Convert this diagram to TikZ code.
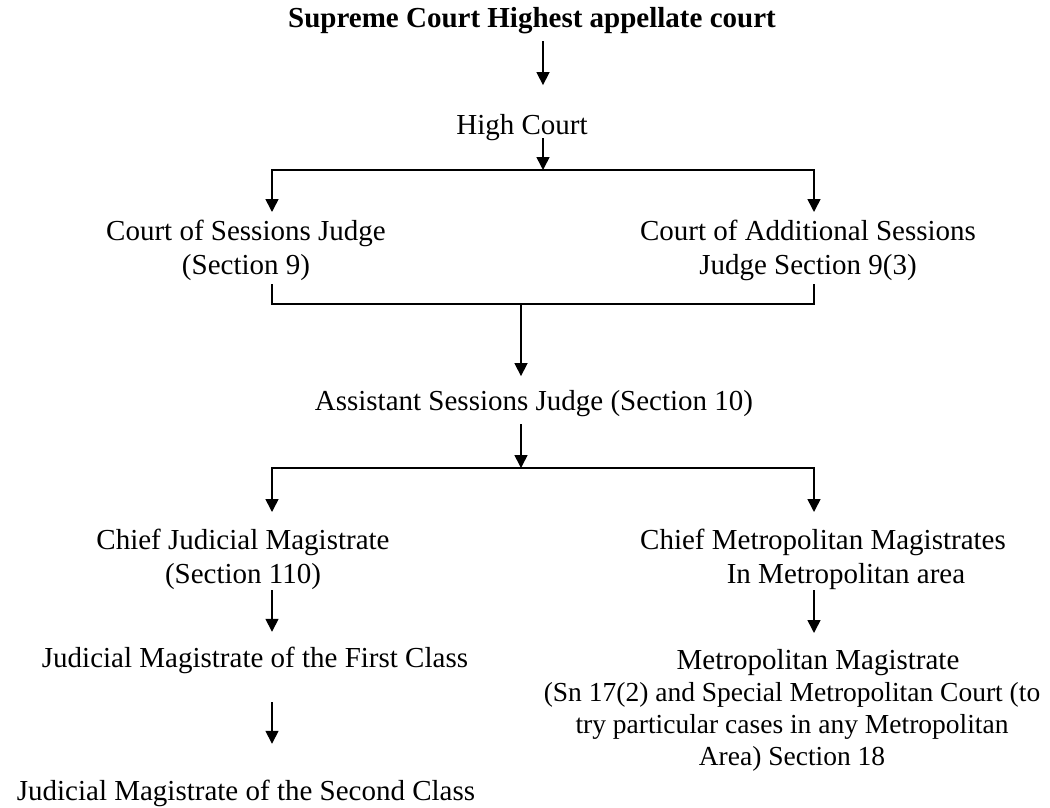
\documentclass[tikz,border=0pt]{standalone}
\usepackage{fontspec}
\setmainfont{Liberation Serif}
\usetikzlibrary{arrows.meta}

\begin{document}
\begin{tikzpicture}[x=1pt,y=-1pt,line width=1.6pt,
    >={Triangle[length=13pt,width=13pt]},
    court/.style={inner sep=0pt,align=center,font=\fontsize{29}{34}\selectfont}]
  \fill[white] (0,0) rectangle (1050,807);
  \useasboundingbox (0,0) rectangle (1050,807);
  % columns and junctions of the connectors
  \coordinate (L) at (272,0);
  \coordinate (R) at (814,0);
  \coordinate (jt) at (543,170);
  \coordinate (jb) at (521,304);
  \coordinate (jc) at (521,468);
  % courts
  \node[court,anchor=base,font=\fontsize{29}{34}\selectfont\bfseries] (sc) at (532,27) {Supreme Court Highest appellate court};
  \node[court,anchor=base] (hc) at (522,134) {High Court};
  \node[court,anchor=north] (csj) at (246,219) {Court of Sessions Judge\\(Section 9)};
  \node[court,anchor=north] (cas) at (808,219) {Court of Additional Sessions\\Judge Section 9(3)};
  \node[court,anchor=base] (asj) at (534,410) {Assistant Sessions Judge (Section 10)};
  \node[court,anchor=north] (cjm) at (243,528) {Chief Judicial Magistrate\\(Section 110)};
  \node[court,anchor=north] (cmm) at (823,528) {Chief Metropolitan Magistrates\\\hspace*{46pt}In Metropolitan area};
  \node[court,anchor=base] (jm1) at (255,667) {Judicial Magistrate of the First Class};
  \node[court,anchor=north,font=\fontsize{27.5}{32}\selectfont] (mm) at (792,649)
    {{\fontsize{29}{34}\selectfont\hspace*{52pt}Metropolitan Magistrate}\\(Sn 17(2) and Special Metropolitan Court (to\\try particular cases in any Metropolitan\hspace*{34pt}\\Area) Section 18};
  \node[court,anchor=base] (jm2) at (246,800) {Judicial Magistrate of the Second Class};
  % connectors
  \draw[->,shorten <=7pt,shorten >=28pt] (sc.south -| jt) -- (hc.north -| jt);
  \draw[->,shorten <=-3pt] (hc.south -| jt) -- (jt);
  \draw[<->,shorten <=7pt,shorten >=7pt] (csj.north -| L) |- (jt -| R) -- (cas.north -| R);
  \draw[shorten <=3pt,shorten >=3pt] (csj.south -| L) |- (jb -| R) -- (cas.south -| R);
  \draw[->,shorten >=13pt] (jb) -- (asj.north -| jb);
  \draw[->,shorten <=7pt] (asj.south -| jc) -- (jc);
  \draw[<->,shorten <=16pt,shorten >=16pt] (cjm.north -| L) |- (jc -| R) -- (cmm.north -| R);
  \draw[->,shorten >=14pt] (cjm.south -| L) -- (jm1.north -| L);
  \draw[->,shorten >=16pt] (cmm.south -| R) -- (mm.north -| R);
  \draw[->,shorten <=28pt,shorten >=35pt] (jm1.south -| L) -- (jm2.north -| L);
\end{tikzpicture}
\end{document}
